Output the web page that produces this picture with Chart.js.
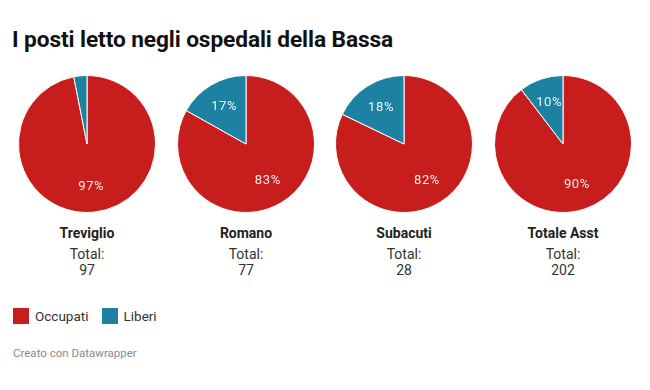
<!DOCTYPE html>
<html>
<head>
<meta charset="utf-8">
<script src="https://cdn.jsdelivr.net/npm/chart.js@4"></script>
<style>
  body { margin: 0; background: #fff; font-family: Roboto, sans-serif; }
  #wrap { position: relative; width: 650px; height: 390px; overflow: hidden; }
  h1 { position: absolute; left: 12px; top: 26px; margin: 0; font-size: 22.7px; font-weight: 700; color: #111; letter-spacing: -0.1px; }
  .pie { position: absolute; top: 75px; width: 138px; height: 138px; }
  .cap { position: absolute; top: 224px; width: 140px; text-align: center; color: #222; }
  .cap b { display: block; font-size: 14px; line-height: 18px; }
  .cap span { display: block; font-size: 14px; line-height: 16px; color: #333; }
  .legend { position: absolute; left: 13px; top: 308px; font-size: 13.5px; color: #333; }
  .legend i { display: inline-block; width: 16px; height: 16px; vertical-align: -3px; margin-right: 6px; }
  .legend em { font-style: normal; margin-right: 13px; }
  .foot { position: absolute; left: 13px; top: 346px; font-size: 11.5px; color: #8a8a8a; }
</style>
</head>
<body>
<div id="wrap">
  <h1>I posti letto negli ospedali della Bassa</h1>
  <div class="legend">
    <i style="background:#c71e1d"></i><em>Occupati</em><i style="background:#1d81a2"></i><em>Liberi</em>
  </div>
  <div class="foot">Creato con Datawrapper</div>
</div>
<script>
const categories = ['Treviglio', 'Romano', 'Subacuti', 'Totale Asst'];
const seriesNames = ['Occupati', 'Liberi'];
const occupati = [94, 64, 23, 181];
const liberi = [3, 13, 5, 21];
const totals = [97, 77, 28, 202];

const colors = ['#c71e1d', '#1d81a2'];
const centersX = [87, 246, 404, 563];

// percent labels inside slices (hidden when the slice is too thin)
const pctLabels = {
  id: 'pctLabels',
  afterDatasetsDraw(chart) {
    const ctx = chart.ctx;
    const meta = chart.getDatasetMeta(0);
    const data = chart.data.datasets[0].data;
    const sum = data.reduce((a, b) => a + b, 0);
    ctx.save();
    ctx.fillStyle = 'rgba(255,255,255,0.92)';
    ctx.font = '13px Roboto, sans-serif';
    ctx.letterSpacing = '0.6px';
    ctx.textAlign = 'center';
    ctx.textBaseline = 'middle';
    meta.data.forEach((arc, i) => {
      const p = data[i] / sum * 100;
      if (p < 5) return;
      const mid = (arc.startAngle + arc.endAngle) / 2;
      const r = arc.outerRadius * 0.63;
      ctx.fillText(Math.round(p) + '%', arc.x + Math.cos(mid) * r, arc.y + Math.sin(mid) * r);
    });
    ctx.restore();
  }
};

const wrap = document.getElementById('wrap');
categories.forEach((name, i) => {
  const cv = document.createElement('canvas');
  cv.className = 'pie';
  cv.width = 138;
  cv.height = 138;
  cv.style.left = (centersX[i] - 69) + 'px';
  wrap.appendChild(cv);

  const cap = document.createElement('div');
  cap.className = 'cap';
  cap.style.left = (centersX[i] - 70) + 'px';
  cap.innerHTML = '<b>' + name + '</b><span style="margin-top:4px">Total:</span><span>' + totals[i] + '</span>';
  wrap.appendChild(cap);

  new Chart(cv.getContext('2d'), {
    type: 'pie',
    data: {
      labels: seriesNames,
      datasets: [{
        data: [occupati[i], liberi[i]],
        backgroundColor: colors,
        borderColor: '#ffffff',
        borderWidth: 1,
      }],
    },
    options: {
      responsive: false,
      animation: false,
      layout: { padding: 0 },
      plugins: {
        legend: { display: false },
        tooltip: { enabled: false },
      },
    },
    plugins: [pctLabels],
  });
});
</script>
</body>
</html>
